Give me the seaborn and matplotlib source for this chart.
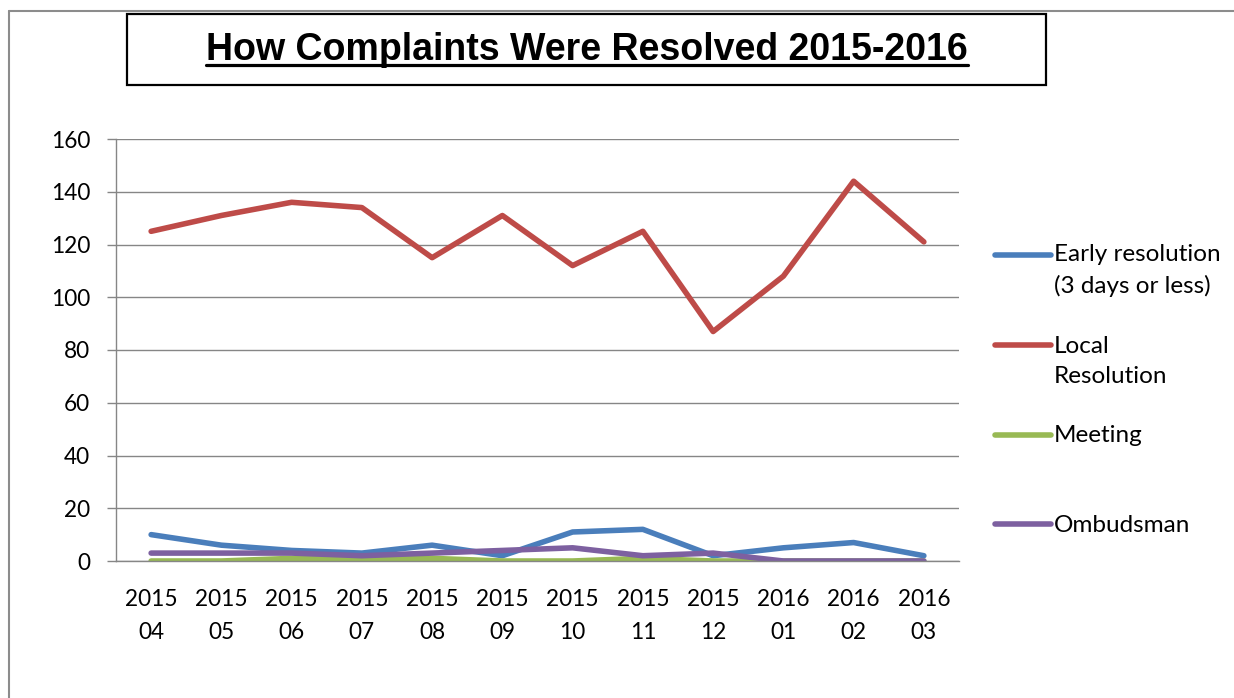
import matplotlib
matplotlib.use("Agg")
import matplotlib.pyplot as plt
import seaborn as sns
import pandas as pd
from matplotlib.lines import Line2D
from matplotlib.patches import Rectangle
from matplotlib.ticker import FixedLocator
from matplotlib.legend_handler import HandlerLine2D

months = ["2015\n04", "2015\n05", "2015\n06", "2015\n07", "2015\n08", "2015\n09",
          "2015\n10", "2015\n11", "2015\n12", "2016\n01", "2016\n02", "2016\n03"]
early = [10, 6, 4, 3, 6, 2, 11, 12, 2, 5, 7, 2]
local = [125, 131, 136, 134, 115, 131, 112, 125, 87, 108, 144, 121]
meeting = [0, 0, 1, 1, 1, 0, 0, 1, 0, 0, 0, 0]
ombudsman = [3, 3, 3, 2, 3, 4, 5, 2, 3, 0, 0, 0]
series_names = ["Early resolution\n(3 days or less)", "Local\nResolution", "Meeting\n ", "Ombudsman"]
colors = ["#4A7EBB", "#BE4B48", "#98B954", "#7D60A0"]
title = "How Complaints Were Resolved 2015-2016"

rows = []
for name, vals in zip(series_names, [early, local, meeting, ombudsman]):
    for m, v in zip(months, vals):
        rows.append({"month": m, "value": v, "series": name})
df = pd.DataFrame(rows)

sns.set_style("white")
plt.rcParams["font.family"] = ["Lato", "DejaVu Sans"]
plt.rcParams["text.color"] = "black"
plt.rcParams["xtick.color"] = "black"
plt.rcParams["ytick.color"] = "black"
plt.rcParams["xtick.labelcolor"] = "black"
plt.rcParams["ytick.labelcolor"] = "black"

W, H = 1234, 698
LW = 4.0
fig = plt.figure(figsize=(W / 100, H / 100), dpi=100)
ax = fig.add_axes([116 / W, 1 - 561 / H, (959 - 116) / W, (561 - 139) / H])

sns.lineplot(data=df, x="month", y="value", hue="series", palette=colors,
             hue_order=series_names, sort=False, linewidth=LW, ax=ax,
             legend=False)
for ln in ax.get_lines():
    ln.set_solid_capstyle("round")
    ln.set_solid_joinstyle("round")

ax.set_xlim(-0.5, len(months) - 0.5)
ax.set_ylim(0, 160)
ax.set_yticks(range(0, 161, 20))
ax.set_xticks(range(len(months)))
ax.set_xticklabels(months, fontsize=16.3, linespacing=1.72)
ax.xaxis.set_minor_locator(FixedLocator([i - 0.5 for i in range(len(months) + 1)]))
ax.tick_params(axis="x", which="major", length=0, pad=20, colors="black")
ax.tick_params(axis="x", which="minor", length=6.5, width=1, color="#868686", direction="out")
ax.tick_params(axis="y", length=6.5, width=1, color="#868686", labelcolor="black",
               labelsize=16.3, pad=12, left=True)
ax.set_xlabel("")
ax.set_ylabel("")
ax.grid(axis="y", color="#868686", linewidth=1)
ax.set_axisbelow(True)
for s in ["top", "right"]:
    ax.spines[s].set_visible(False)
for s in ["left", "bottom"]:
    ax.spines[s].set_color("#868686")
    ax.spines[s].set_linewidth(1)


class TopAlignedHandler(HandlerLine2D):
    def __init__(self, shift, **kw):
        super().__init__(**kw)
        self.shift = shift

    def create_artists(self, legend, orig_handle, xdescent, ydescent, width, height,
                       fontsize, trans):
        arts = super().create_artists(legend, orig_handle, xdescent, ydescent, width,
                                      height, fontsize, trans)
        for a in arts:
            a.set_ydata([y + self.shift for y in a.get_ydata()])
        return arts


handles = [Line2D([0], [0], color=c, lw=LW, solid_capstyle="round") for c in colors]
shift2 = 11.5
hmap = {handles[0]: TopAlignedHandler(shift2), handles[1]: TopAlignedHandler(shift2),
        handles[2]: TopAlignedHandler(shift2), handles[3]: TopAlignedHandler(0)}
leg = fig.legend(handles, series_names, loc="upper left", handler_map=hmap,
                 bbox_to_anchor=(973 / W, 1 - 222 / H), frameon=False, fontsize=17.5,
                 handlelength=2.3, handletextpad=0.12, labelspacing=1.58)
for txt in leg.get_texts():
    txt.set_linespacing(1.56)
    txt.set_color("black")

# outer frame
fig.add_artist(Line2D([9 / W, 9 / W], [0, 1 - 11 / H], color="#8c8c8c", lw=1.5))
fig.add_artist(Line2D([9 / W, 1], [1 - 11 / H, 1 - 11 / H], color="#8c8c8c", lw=1.5))

# title box
fig.add_artist(Rectangle((127 / W, 1 - 85 / H), (1046 - 127) / W, (85 - 14) / H,
                         transform=fig.transFigure, fill=False, edgecolor="black", lw=1.6))
t = fig.text(587 / W, 1 - 60 / H, title, ha="center", va="baseline", fontsize=27,
             fontweight="bold", color="black", family=["Liberation Sans", "DejaVu Sans"])
fig.canvas.draw()
bb = t.get_window_extent()
fig.add_artist(Line2D([bb.x0 / W, bb.x1 / W], [1 - 65 / H, 1 - 65 / H],
                      color="black", lw=2.3))

fig.savefig("out.png", dpi=100)
